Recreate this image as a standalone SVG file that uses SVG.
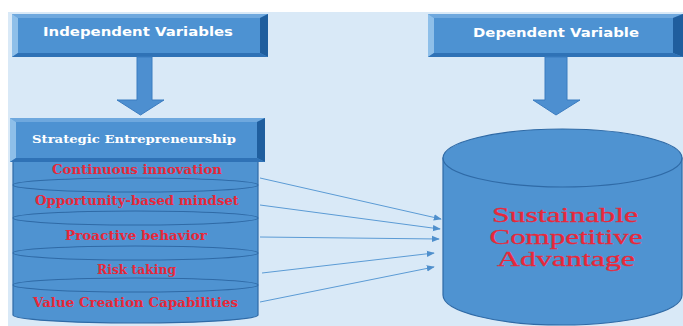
<svg xmlns="http://www.w3.org/2000/svg" width="683" height="326" viewBox="0 0 683 326">
  <defs>
    <style>
      .face { fill: #4d92d2; }
      .bev-light { fill: #8ebfe9; }
      .bev-top { fill: #6ea8de; }
      .bev-dark { fill: #1f5e9e; }
      .bev-bottom { fill: #2f72b6; }
      .cyl { fill: #4f93d1; stroke: #2f6aa6; stroke-width: 1.2; }
      .band { fill: none; stroke: #2f6aa6; stroke-width: 1.1; }
      .fat { fill: #4d8fd0; stroke: #3b7cc0; stroke-width: 1; }
      .head { font-family: "DejaVu Sans", Verdana, sans-serif; font-weight: bold; font-size: 12.5px; fill: #ffffff; }
      .head2 { font-family: "DejaVu Serif", "Liberation Serif", serif; font-weight: bold; font-size: 11px; fill: #ffffff; }
      .item { font-family: "DejaVu Serif", "Liberation Serif", serif; font-weight: bold; font-size: 12.5px; fill: #e8283a; }
      .big { font-family: "Liberation Serif", "Times New Roman", serif; font-size: 21px; fill: #e8283a; stroke: #e8283a; stroke-width: 0.3; }
      .link { stroke: #5b9bd5; stroke-width: 1; fill: none; }
    </style>
    <marker id="tip" viewBox="0 0 10 10" refX="9" refY="5" markerWidth="8" markerHeight="8" markerUnits="userSpaceOnUse" orient="auto">
      <path d="M0,1 L10,5 L0,9 z" fill="#4f8fcc"/>
    </marker>
  </defs>

  <!-- page background -->
  <rect x="0" y="0" width="683" height="326" fill="#ffffff"/>
  <rect x="8" y="12" width="675" height="314" fill="#d9e9f7"/>

  <!-- header: independent variables -->
  <g id="independent-variables">
    <rect x="12" y="14" width="256" height="43" class="face"/>
    <polygon points="12,14 268,14 260,18 18,18" class="bev-top"/>
    <polygon points="12,14 18,18 18,53 12,57" class="bev-light"/>
    <polygon points="268,14 268,57 260,53 260,18" class="bev-dark"/>
    <polygon points="12,57 18,53 260,53 268,57" class="bev-bottom"/>
    <text x="138" y="36" text-anchor="middle" class="head" textLength="190" lengthAdjust="spacingAndGlyphs">Independent Variables</text>
  </g>

  <!-- header: dependent variable -->
  <g id="dependent-variable">
    <rect x="428" y="14" width="255" height="43" class="face"/>
    <polygon points="428,14 683,14 673,18 434,18" class="bev-top"/>
    <polygon points="428,14 434,18 434,53 428,57" class="bev-light"/>
    <polygon points="683,14 683,57 673,53 673,18" class="bev-dark"/>
    <polygon points="428,57 434,53 673,53 683,57" class="bev-bottom"/>
    <text x="556" y="37" text-anchor="middle" class="head" textLength="166" lengthAdjust="spacingAndGlyphs">Dependent Variable</text>
  </g>

  <!-- block arrows down -->
  <g id="down-arrows">
    <polygon points="137,57 152,57 152,100 164,100 140.5,115 117,100 137,100" class="fat"/>
    <polygon points="545,57 567,57 567,100 580,100 556,115 533,100 545,100" class="fat"/>
  </g>

  <!-- strategic entrepreneurship stack -->
  <g id="strategic-entrepreneurship">
    <path d="M13,158 L13,315 A122.5,8 0 0 0 258,315 L258,158 Z" class="cyl"/>
    <ellipse cx="135.5" cy="185" rx="122.5" ry="7" class="band"/>
    <ellipse cx="135.5" cy="218" rx="122.5" ry="7" class="band"/>
    <ellipse cx="135.5" cy="253" rx="122.5" ry="7" class="band"/>
    <ellipse cx="135.5" cy="285" rx="122.5" ry="7" class="band"/>
    <rect x="10" y="118" width="255" height="44" class="face"/>
    <polygon points="10,118 265,118 257,122 16,122" class="bev-top"/>
    <polygon points="10,118 16,122 16,158 10,162" class="bev-light"/>
    <polygon points="265,118 265,162 257,158 257,122" class="bev-dark"/>
    <polygon points="10,162 16,158 257,158 265,162" class="bev-bottom"/>
    <text x="134" y="143" text-anchor="middle" class="head2" textLength="204" lengthAdjust="spacingAndGlyphs">Strategic Entrepreneurship</text>
    <text x="137" y="174" text-anchor="middle" class="item" textLength="170" lengthAdjust="spacingAndGlyphs">Continuous innovation</text>
    <text x="137" y="205" text-anchor="middle" class="item" textLength="204" lengthAdjust="spacingAndGlyphs">Opportunity-based mindset</text>
    <text x="136" y="240" text-anchor="middle" class="item" textLength="142" lengthAdjust="spacingAndGlyphs">Proactive behavior</text>
    <text x="136.5" y="274" text-anchor="middle" class="item" textLength="79" lengthAdjust="spacingAndGlyphs">Risk taking</text>
    <text x="135.5" y="307" text-anchor="middle" class="item" textLength="205" lengthAdjust="spacingAndGlyphs">Value Creation Capabilities</text>
  </g>

  <!-- sustainable competitive advantage cylinder -->
  <g id="sustainable-competitive-advantage">
    <path d="M443,158 L443,295 A119.5,30 0 0 0 682,295 L682,158 Z" class="cyl"/>
    <ellipse cx="562.5" cy="158" rx="119.5" ry="29" class="cyl"/>
    <text x="565" y="222" text-anchor="middle" class="big" textLength="146" lengthAdjust="spacingAndGlyphs">Sustainable</text>
    <text x="566" y="244" text-anchor="middle" class="big" textLength="153" lengthAdjust="spacingAndGlyphs">Competitive</text>
    <text x="566" y="266" text-anchor="middle" class="big" textLength="138" lengthAdjust="spacingAndGlyphs">Advantage</text>
  </g>

  <!-- connectors -->
  <g id="connectors">
    <line x1="260" y1="178" x2="441" y2="219" class="link" marker-end="url(#tip)"/>
    <line x1="260" y1="205" x2="440" y2="229" class="link" marker-end="url(#tip)"/>
    <line x1="260" y1="237" x2="439" y2="239" class="link" marker-end="url(#tip)"/>
    <line x1="262" y1="273" x2="434" y2="253" class="link" marker-end="url(#tip)"/>
    <line x1="260" y1="302" x2="434" y2="267" class="link" marker-end="url(#tip)"/>
  </g>
</svg>
